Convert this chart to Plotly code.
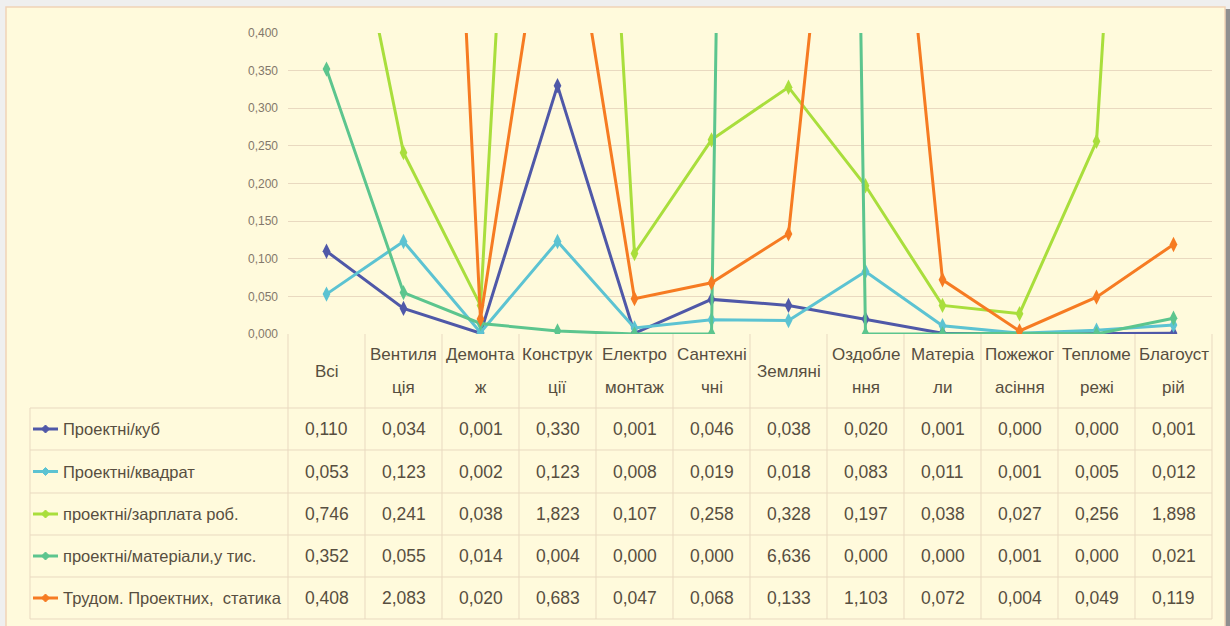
import plotly.graph_objects as go

# Categories (columns of the data table); "|" marks where the header wraps
header_labels = ["Всі", "Вентиля|ція", "Демонта|ж", "Конструк|ції", "Електро|монтаж",
                 "Сантехні|чні", "Земляні", "Оздобле|ння", "Матеріа|ли", "Пожежог|асіння",
                 "Тепломе|режі", "Благоуст|рій"]
categories = [h.replace("|", "") for h in header_labels]

series_names = ["Проектні/куб", "Проектні/квадрат", "проектні/зарплата роб.",
                "проектні/матеріали,у тис.", "Трудом. Проектних,  статика"]

kub = [0.110, 0.034, 0.001, 0.330, 0.001, 0.046, 0.038, 0.020, 0.001, 0.000, 0.000, 0.001]
kvadrat = [0.053, 0.123, 0.002, 0.123, 0.008, 0.019, 0.018, 0.083, 0.011, 0.001, 0.005, 0.012]
zarplata = [0.746, 0.241, 0.038, 1.823, 0.107, 0.258, 0.328, 0.197, 0.038, 0.027, 0.256, 1.898]
materialy = [0.352, 0.055, 0.014, 0.004, 0.000, 0.000, 6.636, 0.000, 0.000, 0.001, 0.000, 0.021]
trudom = [0.408, 2.083, 0.020, 0.683, 0.047, 0.068, 0.133, 1.103, 0.072, 0.004, 0.049, 0.119]

series_values = [kub, kvadrat, zarplata, materialy, trudom]
series_colors = ["#4f58a8", "#5cc3d2", "#a9de3c", "#5cc58e", "#f67b22"]

Y_MAX = 0.4

W, H = 1230, 626
L, R, T, B = 288, 1212, 33, 334          # plot area in pixels
FONT = "Liberation Sans, Arial, sans-serif"
TEXT_COLOR = "#574e40"
GRID = "#e9d9c0"
CREAM = "#fffadc"


def px(x):
    return (x - L) / (R - L)


def py(y):
    return (B - y) / (B - T)


fig = go.Figure()

for name, vals, col in zip(series_names, series_values, series_colors):
    # the line runs through every point; markers only for points inside the axis range
    fig.add_trace(go.Scatter(
        x=categories, y=vals, name=name, mode="lines",
        line=dict(color=col, width=3), showlegend=False,
    ))
    inside = [(c, v) for c, v in zip(categories, vals) if v <= Y_MAX]
    fig.add_trace(go.Scatter(
        x=[c for c, _ in inside], y=[v for _, v in inside], name=name, mode="markers",
        marker=dict(symbol="diamond-tall", size=11, color=col,
                    line=dict(width=0), opacity=1),
        cliponaxis=True, showlegend=False,
    ))

shapes = []
annotations = []

# chart box with its border and a soft shadow on the right
shapes.append(dict(type="rect", xref="paper", yref="paper", x0=px(1225), x1=px(1230),
                   y0=py(640), y1=py(9), fillcolor="#8f8f8f", line_width=0, layer="below"))
shapes.append(dict(type="rect", xref="paper", yref="paper", x0=px(6), x1=px(1225),
                   y0=py(640), y1=py(7), fillcolor=CREAM,
                   line=dict(color="#f1d3b6", width=1.5), layer="below"))

# data table grid
col_w = (R - L) / len(categories)
row_lines = [408, 450, 493, 535, 577, 619]
for yl in row_lines:
    shapes.append(dict(type="line", xref="paper", yref="paper", x0=px(30), x1=px(R),
                       y0=py(yl), y1=py(yl), line=dict(color=GRID, width=1)))
shapes.append(dict(type="line", xref="paper", yref="paper", x0=px(30), x1=px(30),
                   y0=py(408), y1=py(619), line=dict(color=GRID, width=1)))
for k in range(len(categories) + 1):
    xl = L + k * col_w
    shapes.append(dict(type="line", xref="paper", yref="paper", x0=px(xl), x1=px(xl),
                       y0=py(B), y1=py(619), line=dict(color=GRID, width=1)))

# header row
for cat, lab in zip(categories, header_labels):
    parts = lab.split("|")
    ys = [371] if len(parts) == 1 else [354, 387]
    for part, yy in zip(parts, ys):
        annotations.append(dict(x=cat, xref="x", y=py(yy), yref="paper", text=part,
                                showarrow=False, xanchor="center", yanchor="middle",
                                font=dict(family=FONT, size=17, color=TEXT_COLOR)))

# series rows: legend key, name, values
for i, (name, vals, col) in enumerate(zip(series_names, series_values, series_colors)):
    yc = (row_lines[i] + row_lines[i + 1]) / 2
    shapes.append(dict(type="line", xref="paper", yref="paper", x0=px(33), x1=px(58),
                       y0=py(yc), y1=py(yc), line=dict(color=col, width=3)))
    d = 4
    path = (f"M {px(45.5)} {py(yc - d)} L {px(45.5 + d)} {py(yc)} "
            f"L {px(45.5)} {py(yc + d)} L {px(45.5 - d)} {py(yc)} Z")
    shapes.append(dict(type="path", xref="paper", yref="paper", path=path,
                       fillcolor=col, line=dict(color=col, width=1)))
    annotations.append(dict(x=px(61), xref="paper", y=py(yc), yref="paper", text=name,
                            showarrow=False, xanchor="left", yanchor="middle",
                            font=dict(family=FONT, size=16.5, color=TEXT_COLOR)))
    for cat, v in zip(categories, vals):
        annotations.append(dict(x=cat, xref="x", y=py(yc), yref="paper",
                                text=f"{v:.3f}".replace(".", ","),
                                showarrow=False, xanchor="center", yanchor="middle",
                                font=dict(family=FONT, size=17.5, color=TEXT_COLOR)))

fig.update_layout(
    width=W, height=H,
    margin=dict(l=L, r=W - R, t=T, b=H - B, pad=0),
    paper_bgcolor="#efefef",
    plot_bgcolor="rgba(0,0,0,0)",
    separators=", ",
    shapes=shapes,
    annotations=annotations,
    xaxis=dict(type="category", range=[-0.5, len(categories) - 0.5], showgrid=False,
               showticklabels=False, zeroline=False, showline=False, ticks=""),
    yaxis=dict(range=[0, Y_MAX], dtick=0.05, tickformat=".3f", showgrid=True,
               gridcolor=GRID, gridwidth=1, zeroline=False, showline=False, ticks="",
               ticklabelstandoff=9,
               tickfont=dict(family=FONT, size=12, color="#83786a")),
)

fig.write_html("out.html")
